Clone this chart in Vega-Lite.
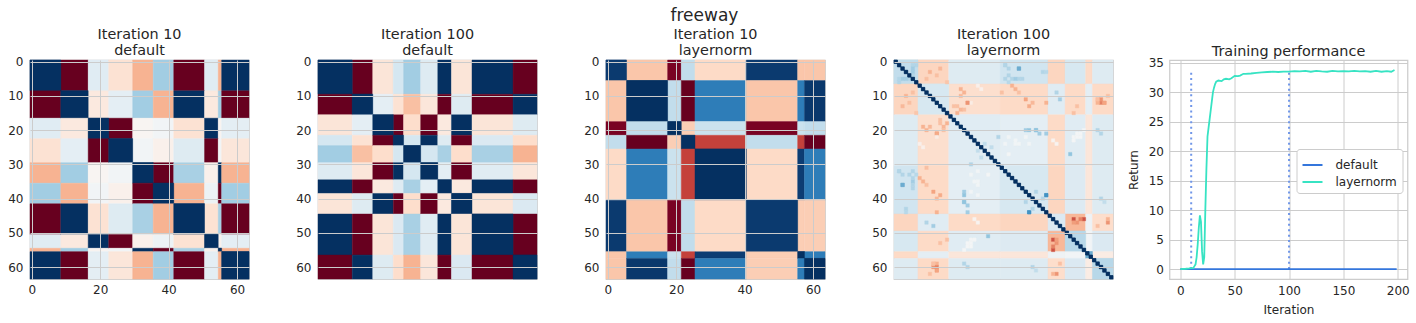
{"$schema":"https://vega.github.io/schema/vega-lite/v6.json","background":"white","padding":{"left":7,"top":7,"right":0,"bottom":0},"autosize":{"type":"pad"},
"config":{"font":"DejaVu Sans","range":{"heatmap":["#67001f","#b2182b","#d6604d","#f4a582","#fddbc7","#f7f7f7","#d1e5f0","#92c5de","#4393c3","#2166ac","#053061"],"ramp":["#67001f","#b2182b","#d6604d","#f4a582","#fddbc7","#f7f7f7","#d1e5f0","#92c5de","#4393c3","#2166ac","#053061"]},"view":{"stroke":"#cccccc","strokeWidth":1.25},"axis":{"domain":false,"ticks":false,"gridColor":"#cccccc","gridWidth":1,"labelColor":"#262626","labelFontSize":12,"labelPadding":7,"labelFont":"DejaVu Sans","titleFont":"DejaVu Sans","titleColor":"#262626","titleFontSize":12,"titleFontWeight":"normal","labelOverlap":false},"axisX":{"labelPadding":5},"title":{"font":"DejaVu Sans","fontSize":14.4,"fontWeight":"normal","color":"#262626","offset":-3,"lineHeight":16.5},"rect":{"strokeWidth":0.4}},
"title":{"text":"freeway","fontSize":17,"anchor":"middle","offset":1,"dx":-4},
"datasets":{"m":[
{"p":1,"x0":0,"x1":9,"y0":0,"y1":9,"v":1},{"p":1,"x0":9,"x1":17,"y0":0,"y1":9,"v":-1},{"p":1,"x0":17,"x1":23,"y0":0,"y1":9,"v":0.12},{"p":1,"x0":23,"x1":30,"y0":0,"y1":9,"v":-0.15},{"p":1,"x0":30,"x1":36,"y0":0,"y1":9,"v":-0.35},{"p":1,"x0":36,"x1":42,"y0":0,"y1":9,"v":0.35},{"p":1,"x0":42,"x1":51,"y0":0,"y1":9,"v":-1},{"p":1,"x0":51,"x1":55,"y0":0,"y1":9,"v":0.12},{"p":1,"x0":55,"x1":56,"y0":0,"y1":9,"v":-0.35},{"p":1,"x0":56,"x1":64,"y0":0,"y1":9,"v":1},
{"p":1,"x0":9,"x1":17,"y0":9,"y1":17,"v":1},{"p":1,"x0":17,"x1":23,"y0":9,"y1":17,"v":-0.1},{"p":1,"x0":23,"x1":30,"y0":9,"y1":17,"v":0.1},{"p":1,"x0":30,"x1":36,"y0":9,"y1":17,"v":0.35},{"p":1,"x0":36,"x1":42,"y0":9,"y1":17,"v":-0.35},{"p":1,"x0":42,"x1":51,"y0":9,"y1":17,"v":1},{"p":1,"x0":51,"x1":55,"y0":9,"y1":17,"v":-0.1},{"p":1,"x0":55,"x1":56,"y0":9,"y1":17,"v":0.35},{"p":1,"x0":56,"x1":64,"y0":9,"y1":17,"v":-1},
{"p":1,"x0":17,"x1":23,"y0":17,"y1":23,"v":1},{"p":1,"x0":23,"x1":30,"y0":17,"y1":23,"v":-1},{"p":1,"x0":30,"x1":36,"y0":17,"y1":23,"v":-0.02},{"p":1,"x0":36,"x1":42,"y0":17,"y1":23,"v":0.03},{"p":1,"x0":42,"x1":51,"y0":17,"y1":23,"v":-0.15},{"p":1,"x0":51,"x1":55,"y0":17,"y1":23,"v":1},{"p":1,"x0":55,"x1":56,"y0":17,"y1":23,"v":-0.03},{"p":1,"x0":56,"x1":64,"y0":17,"y1":23,"v":0.1},
{"p":1,"x0":23,"x1":30,"y0":23,"y1":30,"v":1},{"p":1,"x0":30,"x1":36,"y0":23,"y1":30,"v":0.03},{"p":1,"x0":36,"x1":42,"y0":23,"y1":30,"v":-0.05},{"p":1,"x0":42,"x1":51,"y0":23,"y1":30,"v":0.13},{"p":1,"x0":51,"x1":55,"y0":23,"y1":30,"v":-1},{"p":1,"x0":55,"x1":56,"y0":23,"y1":30,"v":0.03},{"p":1,"x0":56,"x1":64,"y0":23,"y1":30,"v":-0.12},
{"p":1,"x0":30,"x1":36,"y0":30,"y1":36,"v":1},{"p":1,"x0":36,"x1":42,"y0":30,"y1":36,"v":-1},{"p":1,"x0":42,"x1":51,"y0":30,"y1":36,"v":0.33},{"p":1,"x0":51,"x1":55,"y0":30,"y1":36,"v":-0.05},{"p":1,"x0":55,"x1":56,"y0":30,"y1":36,"v":1},{"p":1,"x0":56,"x1":64,"y0":30,"y1":36,"v":-0.35},
{"p":1,"x0":36,"x1":42,"y0":36,"y1":42,"v":1},{"p":1,"x0":42,"x1":51,"y0":36,"y1":42,"v":-0.35},{"p":1,"x0":51,"x1":55,"y0":36,"y1":42,"v":0.06},{"p":1,"x0":55,"x1":56,"y0":36,"y1":42,"v":-1},{"p":1,"x0":56,"x1":64,"y0":36,"y1":42,"v":0.35},
{"p":1,"x0":42,"x1":51,"y0":42,"y1":51,"v":1},{"p":1,"x0":51,"x1":55,"y0":42,"y1":51,"v":-0.15},{"p":1,"x0":55,"x1":56,"y0":42,"y1":51,"v":0.33},{"p":1,"x0":56,"x1":64,"y0":42,"y1":51,"v":-1},
{"p":1,"x0":51,"x1":55,"y0":51,"y1":55,"v":1},{"p":1,"x0":55,"x1":56,"y0":51,"y1":55,"v":-0.05},{"p":1,"x0":56,"x1":64,"y0":51,"y1":55,"v":0.1},
{"p":1,"x0":55,"x1":56,"y0":55,"y1":56,"v":1},{"p":1,"x0":56,"x1":64,"y0":55,"y1":56,"v":-0.35},{"p":1,"x0":56,"x1":64,"y0":56,"y1":64,"v":1},
{"p":2,"x0":0,"x1":10,"y0":0,"y1":10,"v":1},{"p":2,"x0":10,"x1":16,"y0":0,"y1":10,"v":-1},{"p":2,"x0":16,"x1":22,"y0":0,"y1":10,"v":-0.13},{"p":2,"x0":22,"x1":25,"y0":0,"y1":10,"v":0.18},{"p":2,"x0":25,"x1":30,"y0":0,"y1":10,"v":0.35},{"p":2,"x0":30,"x1":35,"y0":0,"y1":10,"v":0.13},{"p":2,"x0":35,"x1":39,"y0":0,"y1":10,"v":1},{"p":2,"x0":39,"x1":45,"y0":0,"y1":10,"v":-0.13},{"p":2,"x0":45,"x1":57,"y0":0,"y1":10,"v":1},{"p":2,"x0":57,"x1":64,"y0":0,"y1":10,"v":-1},
{"p":2,"x0":10,"x1":16,"y0":10,"y1":16,"v":1},{"p":2,"x0":16,"x1":22,"y0":10,"y1":16,"v":0.1},{"p":2,"x0":22,"x1":25,"y0":10,"y1":16,"v":-0.15},{"p":2,"x0":25,"x1":30,"y0":10,"y1":16,"v":-0.3},{"p":2,"x0":30,"x1":35,"y0":10,"y1":16,"v":-0.12},{"p":2,"x0":35,"x1":39,"y0":10,"y1":16,"v":-1},{"p":2,"x0":39,"x1":45,"y0":10,"y1":16,"v":0.13},{"p":2,"x0":45,"x1":57,"y0":10,"y1":16,"v":-1},{"p":2,"x0":57,"x1":64,"y0":10,"y1":16,"v":1},
{"p":2,"x0":16,"x1":22,"y0":16,"y1":22,"v":1},{"p":2,"x0":22,"x1":25,"y0":16,"y1":22,"v":-1},{"p":2,"x0":25,"x1":30,"y0":16,"y1":22,"v":-0.18},{"p":2,"x0":30,"x1":35,"y0":16,"y1":22,"v":-1},{"p":2,"x0":35,"x1":39,"y0":16,"y1":22,"v":-0.1},{"p":2,"x0":39,"x1":45,"y0":16,"y1":22,"v":1},{"p":2,"x0":45,"x1":57,"y0":16,"y1":22,"v":-0.13},{"p":2,"x0":57,"x1":64,"y0":16,"y1":22,"v":0.13},
{"p":2,"x0":22,"x1":25,"y0":22,"y1":25,"v":1},{"p":2,"x0":25,"x1":30,"y0":22,"y1":25,"v":0.18},{"p":2,"x0":30,"x1":35,"y0":22,"y1":25,"v":1},{"p":2,"x0":35,"x1":39,"y0":22,"y1":25,"v":0.13},{"p":2,"x0":39,"x1":45,"y0":22,"y1":25,"v":-1},{"p":2,"x0":45,"x1":57,"y0":22,"y1":25,"v":0.15},{"p":2,"x0":57,"x1":64,"y0":22,"y1":25,"v":-0.18},
{"p":2,"x0":25,"x1":30,"y0":25,"y1":30,"v":1},{"p":2,"x0":30,"x1":35,"y0":25,"y1":30,"v":0.18},{"p":2,"x0":35,"x1":39,"y0":25,"y1":30,"v":0.33},{"p":2,"x0":39,"x1":45,"y0":25,"y1":30,"v":-0.18},{"p":2,"x0":45,"x1":57,"y0":25,"y1":30,"v":0.33},{"p":2,"x0":57,"x1":64,"y0":25,"y1":30,"v":-0.35},
{"p":2,"x0":30,"x1":35,"y0":30,"y1":35,"v":1},{"p":2,"x0":35,"x1":39,"y0":30,"y1":35,"v":0.1},{"p":2,"x0":39,"x1":45,"y0":30,"y1":35,"v":-1},{"p":2,"x0":45,"x1":57,"y0":30,"y1":35,"v":0.12},{"p":2,"x0":57,"x1":64,"y0":30,"y1":35,"v":-0.12},
{"p":2,"x0":35,"x1":39,"y0":35,"y1":39,"v":1},{"p":2,"x0":39,"x1":45,"y0":35,"y1":39,"v":-0.1},{"p":2,"x0":45,"x1":57,"y0":35,"y1":39,"v":1},{"p":2,"x0":57,"x1":64,"y0":35,"y1":39,"v":-1},
{"p":2,"x0":39,"x1":45,"y0":39,"y1":45,"v":1},{"p":2,"x0":45,"x1":57,"y0":39,"y1":45,"v":-0.13},{"p":2,"x0":57,"x1":64,"y0":39,"y1":45,"v":0.15},
{"p":2,"x0":45,"x1":57,"y0":45,"y1":57,"v":1},{"p":2,"x0":57,"x1":64,"y0":45,"y1":57,"v":-1},{"p":2,"x0":57,"x1":64,"y0":57,"y1":64,"v":1},
{"p":3,"x0":0,"x1":6,"y0":0,"y1":6,"v":0.96},{"p":3,"x0":6,"x1":18,"y0":0,"y1":6,"v":-0.28},{"p":3,"x0":18,"x1":22,"y0":0,"y1":6,"v":-0.95},{"p":3,"x0":22,"x1":26,"y0":0,"y1":6,"v":0.25},{"p":3,"x0":26,"x1":41,"y0":0,"y1":6,"v":-0.2},{"p":3,"x0":41,"x1":56,"y0":0,"y1":6,"v":0.96},{"p":3,"x0":56,"x1":58,"y0":0,"y1":6,"v":-0.28},{"p":3,"x0":58,"x1":64,"y0":0,"y1":6,"v":-0.28},
{"p":3,"x0":6,"x1":18,"y0":6,"y1":18,"v":1},{"p":3,"x0":18,"x1":22,"y0":6,"y1":18,"v":0.25},{"p":3,"x0":22,"x1":26,"y0":6,"y1":18,"v":-1},{"p":3,"x0":26,"x1":41,"y0":6,"y1":18,"v":0.7},{"p":3,"x0":41,"x1":56,"y0":6,"y1":18,"v":-0.28},{"p":3,"x0":56,"x1":58,"y0":6,"y1":18,"v":0.7},{"p":3,"x0":58,"x1":64,"y0":6,"y1":18,"v":0.97},
{"p":3,"x0":18,"x1":22,"y0":18,"y1":22,"v":1},{"p":3,"x0":22,"x1":26,"y0":18,"y1":22,"v":-0.25},{"p":3,"x0":26,"x1":41,"y0":18,"y1":22,"v":0.22},{"p":3,"x0":41,"x1":56,"y0":18,"y1":22,"v":-0.95},{"p":3,"x0":56,"x1":58,"y0":18,"y1":22,"v":0.22},{"p":3,"x0":58,"x1":64,"y0":18,"y1":22,"v":0.25},
{"p":3,"x0":22,"x1":26,"y0":22,"y1":26,"v":1},{"p":3,"x0":26,"x1":41,"y0":22,"y1":26,"v":-0.7},{"p":3,"x0":41,"x1":56,"y0":22,"y1":26,"v":0.25},{"p":3,"x0":56,"x1":58,"y0":22,"y1":26,"v":-0.7},{"p":3,"x0":58,"x1":64,"y0":22,"y1":26,"v":-1},
{"p":3,"x0":26,"x1":41,"y0":26,"y1":41,"v":1},{"p":3,"x0":41,"x1":56,"y0":26,"y1":41,"v":-0.2},{"p":3,"x0":56,"x1":58,"y0":26,"y1":41,"v":0.95},{"p":3,"x0":58,"x1":64,"y0":26,"y1":41,"v":0.7},
{"p":3,"x0":41,"x1":56,"y0":41,"y1":56,"v":0.96},{"p":3,"x0":56,"x1":58,"y0":41,"y1":56,"v":-0.25},{"p":3,"x0":58,"x1":64,"y0":41,"y1":56,"v":-0.25},
{"p":3,"x0":56,"x1":58,"y0":56,"y1":58,"v":1},{"p":3,"x0":58,"x1":64,"y0":56,"y1":58,"v":0.7},{"p":3,"x0":58,"x1":64,"y0":58,"y1":64,"v":1},
{"p":4,"x0":0,"x1":7,"y0":0,"y1":7,"v":0.25},{"p":4,"x0":7,"x1":16,"y0":0,"y1":7,"v":-0.22},{"p":4,"x0":16,"x1":31,"y0":0,"y1":7,"v":0.13},{"p":4,"x0":31,"x1":45,"y0":0,"y1":7,"v":0.2},{"p":4,"x0":45,"x1":50,"y0":0,"y1":7,"v":-0.22},{"p":4,"x0":50,"x1":56,"y0":0,"y1":7,"v":0.17},{"p":4,"x0":56,"x1":58,"y0":0,"y1":7,"v":-0.2},{"p":4,"x0":58,"x1":64,"y0":0,"y1":7,"v":0.13},
{"p":4,"x0":7,"x1":16,"y0":7,"y1":16,"v":0.17},{"p":4,"x0":16,"x1":31,"y0":7,"y1":16,"v":-0.17},{"p":4,"x0":31,"x1":45,"y0":7,"y1":16,"v":-0.2},{"p":4,"x0":45,"x1":50,"y0":7,"y1":16,"v":0.12},{"p":4,"x0":50,"x1":56,"y0":7,"y1":16,"v":-0.2},{"p":4,"x0":56,"x1":58,"y0":7,"y1":16,"v":0.1},{"p":4,"x0":58,"x1":64,"y0":7,"y1":16,"v":-0.2},
{"p":4,"x0":16,"x1":31,"y0":16,"y1":31,"v":0.12},{"p":4,"x0":31,"x1":45,"y0":16,"y1":31,"v":0.1},{"p":4,"x0":45,"x1":50,"y0":16,"y1":31,"v":-0.2},{"p":4,"x0":50,"x1":56,"y0":16,"y1":31,"v":0.12},{"p":4,"x0":56,"x1":58,"y0":16,"y1":31,"v":-0.12},{"p":4,"x0":58,"x1":64,"y0":16,"y1":31,"v":0.13},
{"p":4,"x0":31,"x1":45,"y0":31,"y1":45,"v":0.17},{"p":4,"x0":45,"x1":50,"y0":31,"y1":45,"v":-0.22},{"p":4,"x0":50,"x1":56,"y0":31,"y1":45,"v":0.14},{"p":4,"x0":56,"x1":58,"y0":31,"y1":45,"v":-0.12},{"p":4,"x0":58,"x1":64,"y0":31,"y1":45,"v":0.13},
{"p":4,"x0":45,"x1":50,"y0":45,"y1":50,"v":0.15},{"p":4,"x0":50,"x1":56,"y0":45,"y1":50,"v":-0.33},{"p":4,"x0":56,"x1":58,"y0":45,"y1":50,"v":0.05},{"p":4,"x0":58,"x1":64,"y0":45,"y1":50,"v":-0.18},
{"p":4,"x0":50,"x1":56,"y0":50,"y1":56,"v":0.28},{"p":4,"x0":56,"x1":58,"y0":50,"y1":56,"v":0.03},{"p":4,"x0":58,"x1":64,"y0":50,"y1":56,"v":0.15},
{"p":4,"x0":56,"x1":58,"y0":56,"y1":58,"v":0.5},{"p":4,"x0":58,"x1":64,"y0":56,"y1":58,"v":-0.08},{"p":4,"x0":58,"x1":64,"y0":58,"y1":64,"v":0.28}],
"c":[{"x0":36,"x1":37,"y0":2,"y1":3,"v":0.5},{"x0":2,"x1":3,"y0":5,"y1":6,"v":0.35},{"x0":5,"x1":6,"y0":3,"y1":4,"v":0.35},{"x0":6,"x1":7,"y0":1,"y1":2,"v":0.3},{"x0":5,"x1":6,"y0":1,"y1":2,"v":0.3},{"x0":4,"x1":5,"y0":5,"y1":6,"v":0.3},{"x0":32,"x1":33,"y0":1,"y1":2,"v":0.3},{"x0":33,"x1":34,"y0":2,"y1":3,"v":0.3},{"x0":34,"x1":35,"y0":5,"y1":6,"v":0.3},{"x0":32,"x1":33,"y0":5,"y1":6,"v":0.3},{"x0":36,"x1":37,"y0":5,"y1":6,"v":0.3},{"x0":43,"x1":44,"y0":3,"y1":4,"v":0.3},{"x0":44,"x1":45,"y0":3,"y1":4,"v":0.28},{"x0":33,"x1":34,"y0":6,"y1":7,"v":0.28},{"x0":10,"x1":11,"y0":3,"y1":4,"v":-0.35},{"x0":13,"x1":14,"y0":2,"y1":3,"v":-0.33},{"x0":9,"x1":10,"y0":5,"y1":6,"v":-0.3},{"x0":15,"x1":16,"y0":6,"y1":7,"v":-0.28},{"x0":12,"x1":13,"y0":4,"y1":5,"v":-0.3},{"x0":19,"x1":20,"y0":8,"y1":9,"v":-0.35},{"x0":20,"x1":21,"y0":9,"y1":10,"v":-0.35},{"x0":34,"x1":35,"y0":7,"y1":8,"v":-0.35},{"x0":35,"x1":36,"y0":8,"y1":9,"v":-0.35},{"x0":31,"x1":32,"y0":9,"y1":10,"v":-0.3},{"x0":36,"x1":37,"y0":9,"y1":10,"v":-0.3},{"x0":17,"x1":18,"y0":13,"y1":14,"v":-0.3},{"x0":21,"x1":22,"y0":12,"y1":13,"v":-0.38},{"x0":20,"x1":21,"y0":14,"y1":15,"v":-0.3},{"x0":38,"x1":39,"y0":11,"y1":12,"v":-0.4},{"x0":39,"x1":40,"y0":13,"y1":14,"v":-0.38},{"x0":40,"x1":41,"y0":12,"y1":13,"v":-0.33},{"x0":44,"x1":45,"y0":12,"y1":13,"v":-0.35},{"x0":60,"x1":61,"y0":12,"y1":13,"v":-0.5},{"x0":61,"x1":62,"y0":12,"y1":13,"v":-0.4},{"x0":59,"x1":60,"y0":11,"y1":12,"v":-0.3},{"x0":53,"x1":54,"y0":13,"y1":14,"v":-0.3},{"x0":52,"x1":53,"y0":15,"y1":16,"v":-0.3},{"x0":48,"x1":49,"y0":11,"y1":12,"v":0.35},{"x0":47,"x1":48,"y0":9,"y1":10,"v":0.3},{"x0":12,"x1":13,"y0":21,"y1":22,"v":-0.45},{"x0":14,"x1":15,"y0":19,"y1":20,"v":-0.33},{"x0":15,"x1":16,"y0":18,"y1":19,"v":-0.35},{"x0":10,"x1":11,"y0":19,"y1":20,"v":-0.33},{"x0":13,"x1":14,"y0":18,"y1":19,"v":-0.3},{"x0":24,"x1":25,"y0":7,"y1":8,"v":-0.05},{"x0":25,"x1":26,"y0":8,"y1":9,"v":-0.05},{"x0":22,"x1":23,"y0":12,"y1":13,"v":-0.08},{"x0":52,"x1":53,"y0":22,"y1":23,"v":0.02},{"x0":53,"x1":54,"y0":22,"y1":23,"v":0.02},{"x0":52,"x1":53,"y0":23,"y1":24,"v":0.02},{"x0":46,"x1":47,"y0":23,"y1":24,"v":-0.03},{"x0":47,"x1":48,"y0":24,"y1":25,"v":-0.03},{"x0":51,"x1":52,"y0":27,"y1":28,"v":0.4},{"x0":41,"x1":42,"y0":20,"y1":21,"v":0.4},{"x0":42,"x1":43,"y0":21,"y1":22,"v":0.35},{"x0":38,"x1":39,"y0":20,"y1":21,"v":0.35},{"x0":39,"x1":40,"y0":20,"y1":21,"v":0.4},{"x0":26,"x1":27,"y0":24,"y1":25,"v":0.25},{"x0":28,"x1":29,"y0":25,"y1":26,"v":0.25},{"x0":30,"x1":31,"y0":22,"y1":23,"v":0.3},{"x0":44,"x1":45,"y0":39,"y1":40,"v":0.6},{"x0":43,"x1":44,"y0":40,"y1":41,"v":0.3},{"x0":41,"x1":42,"y0":38,"y1":39,"v":0.3},{"x0":39,"x1":40,"y0":44,"y1":45,"v":0.6},{"x0":46,"x1":47,"y0":52,"y1":53,"v":-0.65},{"x0":46,"x1":47,"y0":55,"y1":56,"v":-0.65},{"x0":47,"x1":48,"y0":53,"y1":54,"v":-0.45},{"x0":46,"x1":47,"y0":54,"y1":55,"v":-0.5},{"x0":47,"x1":48,"y0":52,"y1":53,"v":-0.42},{"x0":62,"x1":63,"y0":47,"y1":48,"v":-0.45},{"x0":62,"x1":63,"y0":46,"y1":47,"v":-0.35},{"x0":59,"x1":60,"y0":48,"y1":49,"v":-0.3},{"x0":11,"x1":12,"y0":60,"y1":61,"v":-0.45},{"x0":12,"x1":13,"y0":61,"y1":62,"v":-0.4},{"x0":12,"x1":13,"y0":59,"y1":60,"v":-0.35},{"x0":11,"x1":12,"y0":59,"y1":60,"v":-0.3},{"x0":10,"x1":11,"y0":62,"y1":63,"v":-0.3},{"x0":20,"x1":21,"y0":41,"y1":42,"v":0.4},{"x0":21,"x1":22,"y0":44,"y1":45,"v":0.35},{"x0":2,"x1":3,"y0":36,"y1":37,"v":0.5},{"x0":5,"x1":6,"y0":35,"y1":36,"v":0.35},{"x0":4,"x1":5,"y0":33,"y1":34,"v":0.3},{"x0":1,"x1":2,"y0":32,"y1":33,"v":0.3},{"x0":5,"x1":6,"y0":37,"y1":38,"v":0.3},{"x0":20,"x1":21,"y0":59,"y1":60,"v":0.3},{"x0":21,"x1":22,"y0":60,"y1":61,"v":0.3},{"x0":40,"x1":41,"y0":60,"y1":61,"v":0.3},{"x0":41,"x1":42,"y0":61,"y1":62,"v":0.25},{"x0":21,"x1":22,"y0":54,"y1":55,"v":0.02},{"x0":20,"x1":21,"y0":55,"y1":56,"v":0.02},{"x0":22,"x1":23,"y0":54,"y1":55,"v":0.02},{"x0":21,"x1":22,"y0":53,"y1":54,"v":0.02},{"x0":27,"x1":28,"y0":33,"y1":34,"v":0.02},{"x0":24,"x1":25,"y0":35,"y1":36,"v":0.03},{"x0":24,"x1":25,"y0":36,"y1":37,"v":0.03},{"x0":33,"x1":34,"y0":22,"y1":23,"v":0.03},{"x0":32,"x1":33,"y0":24,"y1":25,"v":0.03},{"x0":35,"x1":36,"y0":23,"y1":24,"v":0.03},{"x0":38,"x1":39,"y0":22,"y1":23,"v":0.03},{"x0":39,"x1":40,"y0":24,"y1":25,"v":0.03},
{"x0":0,"x1":1,"y0":0,"y1":1,"v":1},{"x0":1,"x1":2,"y0":1,"y1":2,"v":1},{"x0":2,"x1":3,"y0":2,"y1":3,"v":1},{"x0":3,"x1":4,"y0":3,"y1":4,"v":1},{"x0":4,"x1":5,"y0":4,"y1":5,"v":1},{"x0":5,"x1":6,"y0":5,"y1":6,"v":1},{"x0":6,"x1":7,"y0":6,"y1":7,"v":1},{"x0":7,"x1":8,"y0":7,"y1":8,"v":1},{"x0":8,"x1":9,"y0":8,"y1":9,"v":1},{"x0":9,"x1":10,"y0":9,"y1":10,"v":1},{"x0":10,"x1":11,"y0":10,"y1":11,"v":1},{"x0":11,"x1":12,"y0":11,"y1":12,"v":1},{"x0":12,"x1":13,"y0":12,"y1":13,"v":1},{"x0":13,"x1":14,"y0":13,"y1":14,"v":1},{"x0":14,"x1":15,"y0":14,"y1":15,"v":1},{"x0":15,"x1":16,"y0":15,"y1":16,"v":1},{"x0":16,"x1":17,"y0":16,"y1":17,"v":1},{"x0":17,"x1":18,"y0":17,"y1":18,"v":1},{"x0":18,"x1":19,"y0":18,"y1":19,"v":1},{"x0":19,"x1":20,"y0":19,"y1":20,"v":1},{"x0":20,"x1":21,"y0":20,"y1":21,"v":1},{"x0":21,"x1":22,"y0":21,"y1":22,"v":1},{"x0":22,"x1":23,"y0":22,"y1":23,"v":1},{"x0":23,"x1":24,"y0":23,"y1":24,"v":1},{"x0":24,"x1":25,"y0":24,"y1":25,"v":1},{"x0":25,"x1":26,"y0":25,"y1":26,"v":1},{"x0":26,"x1":27,"y0":26,"y1":27,"v":1},{"x0":27,"x1":28,"y0":27,"y1":28,"v":1},{"x0":28,"x1":29,"y0":28,"y1":29,"v":1},{"x0":29,"x1":30,"y0":29,"y1":30,"v":1},{"x0":30,"x1":31,"y0":30,"y1":31,"v":1},{"x0":31,"x1":32,"y0":31,"y1":32,"v":1},{"x0":32,"x1":33,"y0":32,"y1":33,"v":1},{"x0":33,"x1":34,"y0":33,"y1":34,"v":1},{"x0":34,"x1":35,"y0":34,"y1":35,"v":1},{"x0":35,"x1":36,"y0":35,"y1":36,"v":1},{"x0":36,"x1":37,"y0":36,"y1":37,"v":1},{"x0":37,"x1":38,"y0":37,"y1":38,"v":1},{"x0":38,"x1":39,"y0":38,"y1":39,"v":1},{"x0":39,"x1":40,"y0":39,"y1":40,"v":1},{"x0":40,"x1":41,"y0":40,"y1":41,"v":1},{"x0":41,"x1":42,"y0":41,"y1":42,"v":1},{"x0":42,"x1":43,"y0":42,"y1":43,"v":1},{"x0":43,"x1":44,"y0":43,"y1":44,"v":1},{"x0":44,"x1":45,"y0":44,"y1":45,"v":1},{"x0":45,"x1":46,"y0":45,"y1":46,"v":1},{"x0":46,"x1":47,"y0":46,"y1":47,"v":1},{"x0":47,"x1":48,"y0":47,"y1":48,"v":1},{"x0":48,"x1":49,"y0":48,"y1":49,"v":1},{"x0":49,"x1":50,"y0":49,"y1":50,"v":1},{"x0":50,"x1":51,"y0":50,"y1":51,"v":1},{"x0":51,"x1":52,"y0":51,"y1":52,"v":1},{"x0":52,"x1":53,"y0":52,"y1":53,"v":1},{"x0":53,"x1":54,"y0":53,"y1":54,"v":1},{"x0":54,"x1":55,"y0":54,"y1":55,"v":1},{"x0":55,"x1":56,"y0":55,"y1":56,"v":1},{"x0":56,"x1":57,"y0":56,"y1":57,"v":1},{"x0":57,"x1":58,"y0":57,"y1":58,"v":1},{"x0":58,"x1":59,"y0":58,"y1":59,"v":1},{"x0":59,"x1":60,"y0":59,"y1":60,"v":1},{"x0":60,"x1":61,"y0":60,"y1":61,"v":1},{"x0":61,"x1":62,"y0":61,"y1":62,"v":1},{"x0":62,"x1":63,"y0":62,"y1":63,"v":1},{"x0":63,"x1":64,"y0":63,"y1":64,"v":1}],
"l":[{"s":"default","i":0,"r":0},{"s":"default","i":50,"r":0},{"s":"default","i":100,"r":0},{"s":"default","i":150,"r":0},{"s":"default","i":199,"r":0},
{"s":"layernorm","i":0,"r":0},{"s":"layernorm","i":5,"r":0.05},{"s":"layernorm","i":8,"r":0.1},{"s":"layernorm","i":10,"r":0.15},{"s":"layernorm","i":12,"r":0.2},{"s":"layernorm","i":13,"r":0.5},{"s":"layernorm","i":14,"r":0.8},{"s":"layernorm","i":15,"r":2},{"s":"layernorm","i":16,"r":4.2},{"s":"layernorm","i":17,"r":7},{"s":"layernorm","i":18,"r":9.1},{"s":"layernorm","i":19,"r":8},{"s":"layernorm","i":20,"r":3},{"s":"layernorm","i":21,"r":0.8},{"s":"layernorm","i":22,"r":2},{"s":"layernorm","i":23,"r":10},{"s":"layernorm","i":24,"r":17},{"s":"layernorm","i":25,"r":22.5},{"s":"layernorm","i":26,"r":24},{"s":"layernorm","i":27,"r":25.5},{"s":"layernorm","i":28,"r":27},{"s":"layernorm","i":29,"r":28.5},{"s":"layernorm","i":30,"r":30},{"s":"layernorm","i":31,"r":30.8},{"s":"layernorm","i":32,"r":31.4},{"s":"layernorm","i":33,"r":31.8},{"s":"layernorm","i":35,"r":32},{"s":"layernorm","i":38,"r":31.9},{"s":"layernorm","i":40,"r":32.2},{"s":"layernorm","i":42,"r":32.3},{"s":"layernorm","i":45,"r":32.2},{"s":"layernorm","i":47,"r":32.4},{"s":"layernorm","i":50,"r":32.8},{"s":"layernorm","i":53,"r":32.75},{"s":"layernorm","i":55,"r":32.85},{"s":"layernorm","i":58,"r":33.15},{"s":"layernorm","i":60,"r":33.15},{"s":"layernorm","i":65,"r":33.2},{"s":"layernorm","i":70,"r":33.3},{"s":"layernorm","i":75,"r":33.4},{"s":"layernorm","i":80,"r":33.45},{"s":"layernorm","i":85,"r":33.5},{"s":"layernorm","i":90,"r":33.45},{"s":"layernorm","i":95,"r":33.5},{"s":"layernorm","i":100,"r":33.5},{"s":"layernorm","i":105,"r":33.6},{"s":"layernorm","i":110,"r":33.55},{"s":"layernorm","i":115,"r":33.65},{"s":"layernorm","i":120,"r":33.5},{"s":"layernorm","i":125,"r":33.65},{"s":"layernorm","i":130,"r":33.55},{"s":"layernorm","i":135,"r":33.5},{"s":"layernorm","i":140,"r":33.65},{"s":"layernorm","i":145,"r":33.55},{"s":"layernorm","i":150,"r":33.6},{"s":"layernorm","i":155,"r":33.55},{"s":"layernorm","i":160,"r":33.65},{"s":"layernorm","i":165,"r":33.55},{"s":"layernorm","i":170,"r":33.6},{"s":"layernorm","i":175,"r":33.5},{"s":"layernorm","i":180,"r":33.65},{"s":"layernorm","i":185,"r":33.5},{"s":"layernorm","i":190,"r":33.6},{"s":"layernorm","i":194,"r":33.5},{"s":"layernorm","i":197,"r":33.8}],
"r":[{"i":10,"r":0,"r2":33.6},{"i":100,"r":0,"r2":33.6}]},
"spacing":12.5,
"hconcat":[{"bounds":"flush","spacing":69,"hconcat":[
{"width":219,"height":219,"data":{"name":"m"},"transform":[{"filter":"datum.p==1"}],"title":{"text":["Iteration 10","default"]},"layer":[
{"mark":"rect","encoding":{"x":{"field":"x0","type":"quantitative","title":null,"scale":{"domain":[0,64],"nice":false,"zero":false},"axis":{"values":[0.5,20.5,40.5,60.5],"labelExpr":"''+(datum.value-0.5)","zindex":1}},"x2":{"field":"x1"},"y":{"field":"y0","type":"quantitative","title":null,"scale":{"domain":[0,64],"nice":false,"zero":false,"reverse":true},"axis":{"values":[0.5,10.5,20.5,30.5,40.5,50.5,60.5],"labelExpr":"''+(datum.value-0.5)","zindex":1}},"y2":{"field":"y1"},"color":{"field":"v","type":"quantitative","scale":{"domain":[-1,1]},"legend":null},"stroke":{"field":"v","type":"quantitative","scale":{"domain":[-1,1]},"legend":null}}},
{"mark":"rect","encoding":{"x":{"field":"y0","type":"quantitative","title":null,"axis":{"values":[0.5,20.5,40.5,60.5],"labelExpr":"''+(datum.value-0.5)","zindex":1}},"x2":{"field":"y1"},"y":{"field":"x0","type":"quantitative","title":null,"axis":{"values":[0.5,10.5,20.5,30.5,40.5,50.5,60.5],"labelExpr":"''+(datum.value-0.5)","zindex":1}},"y2":{"field":"x1"},"color":{"field":"v","type":"quantitative","scale":{"domain":[-1,1]},"legend":null},"stroke":{"field":"v","type":"quantitative","scale":{"domain":[-1,1]},"legend":null}}}]},
{"width":219,"height":219,"data":{"name":"m"},"transform":[{"filter":"datum.p==2"}],"title":{"text":["Iteration 100","default"]},"layer":[
{"mark":"rect","encoding":{"x":{"field":"x0","type":"quantitative","title":null,"scale":{"domain":[0,64],"nice":false,"zero":false},"axis":null},"x2":{"field":"x1"},"y":{"field":"y0","type":"quantitative","title":null,"scale":{"domain":[0,64],"nice":false,"zero":false,"reverse":true},"axis":{"values":[0.5,10.5,20.5,30.5,40.5,50.5,60.5],"labelExpr":"''+(datum.value-0.5)","zindex":1}},"y2":{"field":"y1"},"color":{"field":"v","type":"quantitative","scale":{"domain":[-1,1]},"legend":null},"stroke":{"field":"v","type":"quantitative","scale":{"domain":[-1,1]},"legend":null}}},
{"mark":"rect","encoding":{"x":{"field":"y0","type":"quantitative","axis":null},"x2":{"field":"y1"},"y":{"field":"x0","type":"quantitative","title":null,"axis":{"values":[0.5,10.5,20.5,30.5,40.5,50.5,60.5],"labelExpr":"''+(datum.value-0.5)","zindex":1}},"y2":{"field":"x1"},"color":{"field":"v","type":"quantitative","scale":{"domain":[-1,1]},"legend":null},"stroke":{"field":"v","type":"quantitative","scale":{"domain":[-1,1]},"legend":null}}}]},
{"width":219,"height":219,"data":{"name":"m"},"transform":[{"filter":"datum.p==3"}],"title":{"text":["Iteration 10","layernorm"]},"layer":[
{"mark":"rect","encoding":{"x":{"field":"x0","type":"quantitative","title":null,"scale":{"domain":[0,64],"nice":false,"zero":false},"axis":{"values":[0.5,20.5,40.5,60.5],"labelExpr":"''+(datum.value-0.5)","zindex":1}},"x2":{"field":"x1"},"y":{"field":"y0","type":"quantitative","title":null,"scale":{"domain":[0,64],"nice":false,"zero":false,"reverse":true},"axis":{"values":[0.5,10.5,20.5,30.5,40.5,50.5,60.5],"labelExpr":"''+(datum.value-0.5)","zindex":1}},"y2":{"field":"y1"},"color":{"field":"v","type":"quantitative","scale":{"domain":[-1,1]},"legend":null},"stroke":{"field":"v","type":"quantitative","scale":{"domain":[-1,1]},"legend":null}}},
{"mark":"rect","encoding":{"x":{"field":"y0","type":"quantitative","title":null,"axis":{"values":[0.5,20.5,40.5,60.5],"labelExpr":"''+(datum.value-0.5)","zindex":1}},"x2":{"field":"y1"},"y":{"field":"x0","type":"quantitative","title":null,"axis":{"values":[0.5,10.5,20.5,30.5,40.5,50.5,60.5],"labelExpr":"''+(datum.value-0.5)","zindex":1}},"y2":{"field":"x1"},"color":{"field":"v","type":"quantitative","scale":{"domain":[-1,1]},"legend":null},"stroke":{"field":"v","type":"quantitative","scale":{"domain":[-1,1]},"legend":null}}}]},
{"width":219,"height":219,"title":{"text":["Iteration 100","layernorm"]},"layer":[
{"data":{"name":"m"},"transform":[{"filter":"datum.p==4"}],"mark":"rect","encoding":{"x":{"field":"x0","type":"quantitative","title":null,"scale":{"domain":[0,64],"nice":false,"zero":false},"axis":null},"x2":{"field":"x1"},"y":{"field":"y0","type":"quantitative","title":null,"scale":{"domain":[0,64],"nice":false,"zero":false,"reverse":true},"axis":{"values":[0.5,10.5,20.5,30.5,40.5,50.5,60.5],"labelExpr":"''+(datum.value-0.5)","zindex":1}},"y2":{"field":"y1"},"color":{"field":"v","type":"quantitative","scale":{"domain":[-1,1]},"legend":null},"stroke":{"field":"v","type":"quantitative","scale":{"domain":[-1,1]},"legend":null}}},
{"data":{"name":"m"},"transform":[{"filter":"datum.p==4"}],"mark":"rect","encoding":{"x":{"field":"y0","type":"quantitative","axis":null},"x2":{"field":"y1"},"y":{"field":"x0","type":"quantitative","title":null,"axis":{"values":[0.5,10.5,20.5,30.5,40.5,50.5,60.5],"labelExpr":"''+(datum.value-0.5)","zindex":1}},"y2":{"field":"x1"},"color":{"field":"v","type":"quantitative","scale":{"domain":[-1,1]},"legend":null},"stroke":{"field":"v","type":"quantitative","scale":{"domain":[-1,1]},"legend":null}}},
{"data":{"name":"c"},"mark":"rect","encoding":{"x":{"field":"x0","type":"quantitative","axis":null},"x2":{"field":"x1"},"y":{"field":"y0","type":"quantitative","title":null,"axis":{"values":[0.5,10.5,20.5,30.5,40.5,50.5,60.5],"labelExpr":"''+(datum.value-0.5)","zindex":1}},"y2":{"field":"y1"},"color":{"field":"v","type":"quantitative","scale":{"domain":[-1,1]},"legend":null},"stroke":{"field":"v","type":"quantitative","scale":{"domain":[-1,1]},"legend":null}}},
{"data":{"name":"c"},"mark":"rect","encoding":{"x":{"field":"y0","type":"quantitative","axis":null},"x2":{"field":"y1"},"y":{"field":"x0","type":"quantitative","title":null,"axis":{"values":[0.5,10.5,20.5,30.5,40.5,50.5,60.5],"labelExpr":"''+(datum.value-0.5)","zindex":1}},"y2":{"field":"x1"},"color":{"field":"v","type":"quantitative","scale":{"domain":[-1,1]},"legend":null},"stroke":{"field":"v","type":"quantitative","scale":{"domain":[-1,1]},"legend":null}}}]}]},
{"width":238,"height":219,"title":{"text":["","Training performance"]},"encoding":{"x":{"field":"i","type":"quantitative","title":"Iteration","scale":{"domain":[-9.95,208.95],"nice":false,"zero":false},"axis":{"values":[0,50,100,150,200],"titlePadding":8,"labelPadding":6}},"y":{"field":"r","type":"quantitative","title":"Return","scale":{"domain":[-1.69,35.49],"nice":false,"zero":false},"axis":{"values":[0,5,10,15,20,25,30,35],"titlePadding":8,"labelPadding":6}}},"layer":[
{"data":{"name":"r"},"mark":{"type":"rule","color":"#7096e8","strokeWidth":2,"strokeDash":[2,3.4]},"encoding":{"y2":{"field":"r2"}}},
{"data":{"name":"l"},"mark":{"type":"line","strokeWidth":1.8,"interpolate":"linear"},"encoding":{"color":{"field":"s","type":"nominal","scale":{"domain":["default","layernorm"],"range":["#3476dc","#37e3c3"]},"legend":{"orient":"none","legendX":127,"legendY":89,"title":null,"fillColor":"white","strokeColor":"#cccccc","cornerRadius":3,"padding":5,"labelFontSize":12,"labelColor":"#262626","symbolType":"stroke","symbolStrokeWidth":2,"symbolSize":400,"labelOffset":12,"rowPadding":0}}}}]}],
"resolve":{"scale":{"color":"independent"}}}
